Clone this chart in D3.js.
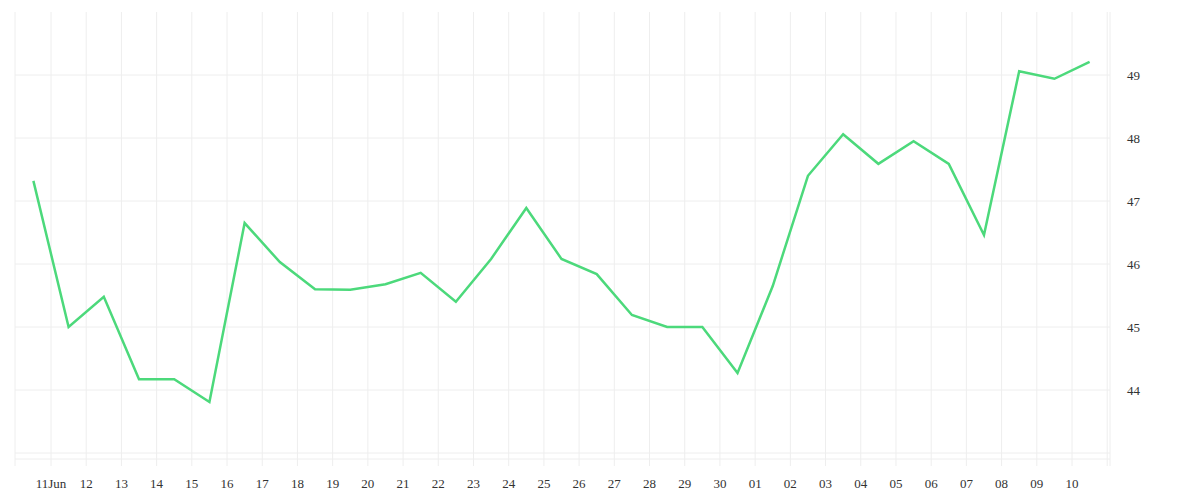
<!DOCTYPE html><html><head><meta charset="utf-8"><script src="https://cdn.jsdelivr.net/npm/d3@7"></script>
<style>body{margin:0;background:#fff}text{font-family:"Liberation Serif",serif;font-size:13px;fill:#333}</style></head><body>
<svg id="c" width="1200" height="500"></svg>
<script>
const startDate = "2023-06-10T12:00";
const values = [47.32,45.0,45.48,44.17,44.17,43.81,46.65,46.03,45.6,45.59,45.68,45.86,45.4,46.08,46.89,46.08,45.84,45.19,45.0,45.0,44.27,45.65,47.4,48.06,47.59,47.95,47.59,46.46,49.06,48.94,49.21];
const yTicks = [44,45,46,47,48,49];
const svg = d3.select("#c");
const t0 = new Date(startDate);
const data = values.map((v,i)=>({d:d3.timeDay.offset(t0,i),v}));
const x = d3.scaleTime().domain([new Date("2023-06-11T00:00"),new Date("2023-07-10T00:00")]).range([51,1072]);
const y = d3.scaleLinear().domain([44,49]).range([390,75]);
const L=15,R=1110,T=12,B=466;
const days = d3.timeDay.range(new Date("2023-06-11T00:00"),new Date("2023-07-11T12:00"));
const g = svg.append("g");
g.selectAll(".vg").data(days).join("line").attr("x1",d=>x(d)).attr("x2",d=>x(d)).attr("y1",T).attr("y2",B).attr("stroke","#eee");
[L,R].forEach(px=>g.append("line").attr("x1",px).attr("x2",px).attr("y1",T).attr("y2",B).attr("stroke","#eee"));
g.selectAll(".hg").data(yTicks.concat([43])).join("line").attr("x1",L).attr("x2",R).attr("y1",d=>y(d)).attr("y2",d=>y(d)).attr("stroke","#eee");
g.append("line").attr("x1",L).attr("x2",R).attr("y1",459).attr("y2",459).attr("stroke","#eee");
svg.selectAll(".yl").data(yTicks).join("text").attr("x",1127).attr("y",d=>y(d)+5).text(d=>d);
const fmt = d=> (d.getDate()===11&&d.getMonth()===5)?"11Jun":d3.timeFormat("%d")(d);
svg.selectAll(".xl").data(days.slice(0,30)).join("text").attr("x",d=>x(d)).attr("y",488).attr("text-anchor","middle").text(fmt);
svg.append("path").datum(data).attr("fill","none").attr("stroke","#4cd97b").attr("stroke-width",2.5)
 .attr("d",d3.line().x(d=>x(d.d)).y(d=>y(d.v)));
</script></body></html>
